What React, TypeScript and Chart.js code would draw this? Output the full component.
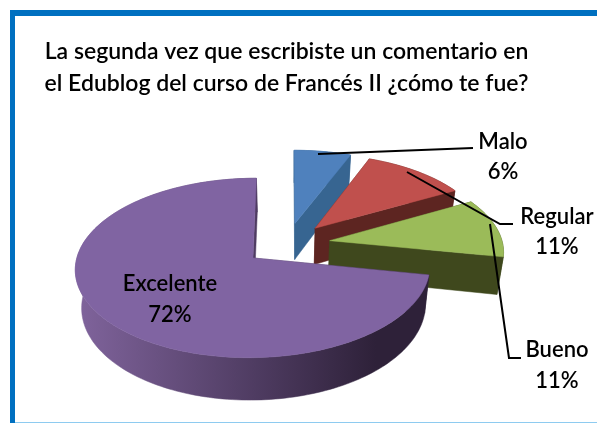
import React, { useEffect, useRef } from "react";
import { Chart, registerables } from "chart.js";

Chart.register(...registerables);

const titleLines = ["La segunda vez que escribiste un comentario en", "el Edublog del curso de Francés II ¿cómo te fue?"];
const categories = ["Malo", "Regular", "Bueno", "Excelente"];
const percentages = [6, 11, 11, 72];
const topColors = ["#4f81bd", "#c0504d", "#9bbb59", "#8064a2"];
const wallColors = ["#376591", "#5d2521", "#3f481d", "#3a2a4a"];

const FONT = "Lato, 'Open Sans', sans-serif";
const view = { cx: 287, cy: 244, rx: 173, ry: 85.5, persp: 0.11, depth: 37, narrow: 0.97 };
const labelPlaces = [
  { x: 503, y: 142, gap: 30 },
  { x: 557, y: 217, gap: 30 },
  { x: 557, y: 350, gap: 31 },
  { x: 170, y: 284, gap: 31 },
];
const leaders = [
  [[318, 154], [473, 148]],
  [[407, 172], [500, 224], [513, 224]],
  [[490, 224], [509, 358], [521, 358]],
];

const project = (X: number, Y: number) => {
  const s = 1 / (1 - view.persp * Y);
  return { x: view.cx + view.rx * X * s, y: view.cy + view.ry * Y * s, s };
};
const drop = (p: { x: number; y: number; s: number }) => ({
  x: view.cx + (p.x - view.cx) * view.narrow,
  y: p.y + view.depth * (1 + (p.s - 1) * 1.0),
  s: p.s,
});
const poly = (ctx: CanvasRenderingContext2D, pts: { x: number; y: number }[], fill: any) => {
  ctx.beginPath();
  pts.forEach((p, i) => (i ? ctx.lineTo(p.x, p.y) : ctx.moveTo(p.x, p.y)));
  ctx.closePath();
  ctx.fillStyle = fill;
  ctx.strokeStyle = fill;
  ctx.lineWidth = 0.5;
  ctx.fill();
  ctx.stroke();
};

const pie3d = {
  id: "pie3d",
  beforeDatasetsDraw(chart: any) {
    const ctx: CanvasRenderingContext2D = chart.ctx;
    const arcs = chart.getDatasetMeta(0).data;
    arcs.forEach((arc: any, i: number) => {
      const { startAngle, endAngle, outerRadius } = arc.getProps(["startAngle", "endAngle", "outerRadius"], true);
      const d = arc.options.offset / outerRadius;
      const mid = (startAngle + endAngle) / 2;
      const ox = Math.cos(mid) * d;
      const oy = Math.sin(mid) * d;
      const apex = project(ox, oy);
      const rim: any[] = [];
      const steps = Math.max(4, Math.round((endAngle - startAngle) * 40));
      for (let k = 0; k <= steps; k++) {
        const a = startAngle + ((endAngle - startAngle) * k) / steps;
        rim.push(project(ox + Math.cos(a), oy + Math.sin(a)));
      }
      let wall: any = wallColors[i];
      if (i === 3) {
        const g = ctx.createLinearGradient(80, 0, 428, 0);
        g.addColorStop(0, "#7f639b");
        g.addColorStop(0.5, "#4f3c62");
        g.addColorStop(0.85, "#2e2139");
        g.addColorStop(1, "#2e2139");
        wall = g;
      }
      const rimLow = rim.map(drop);
      const apexLow = drop(apex);
      poly(ctx, [...rim, ...rimLow.slice().reverse()], wall);
      poly(ctx, [apex, rim[0], rimLow[0], apexLow], wall);
      poly(ctx, [apex, rim[rim.length - 1], rimLow[rim.length - 1], apexLow], wall);
      poly(ctx, [apex, ...rim], topColors[i]);
    });

    ctx.save();
    ctx.strokeStyle = "#000";
    ctx.lineWidth = 2;
    leaders.forEach((pts) => {
      ctx.beginPath();
      pts.forEach(([x, y], i) => (i ? ctx.lineTo(x, y) : ctx.moveTo(x, y)));
      ctx.stroke();
    });
    ctx.fillStyle = "#000";
    ctx.textAlign = "center";
    ctx.textBaseline = "middle";
    ctx.font = `600 22px ${FONT}`;
    labelPlaces.forEach((p, i) => {
      ctx.fillText(categories[i], p.x, p.y);
      ctx.fillText(`${percentages[i]}%`, p.x, p.y + p.gap);
    });
    ctx.restore();
    return false;
  },
};

export default function App() {
  const ref = useRef<HTMLCanvasElement>(null);
  useEffect(() => {
    const chart = new Chart(ref.current!, {
      type: "pie",
      data: {
        labels: categories,
        datasets: [{ data: percentages, backgroundColor: topColors, offset: 35, borderWidth: 0 }],
      },
      options: {
        animation: false,
        responsive: false,
        events: [],
        layout: { padding: { right: 24 } },
        plugins: {
          legend: { display: false },
          tooltip: { enabled: false },
          title: {
            display: true,
            text: titleLines,
            color: "#000",
            font: { family: FONT, size: 23, weight: "600", lineHeight: 1.37 },
            padding: { top: 36, bottom: 10 },
          },
        },
      },
      plugins: [pie3d],
    } as any);
    return () => chart.destroy();
  }, []);
  return (
    <div style={{ position: "fixed", left: 0, top: 0, width: 597, height: 423, background: "#fff", overflow: "hidden" }}>
      <canvas ref={ref} width={597} height={423} style={{ position: "absolute", left: 0, top: 0, display: "block", filter: "blur(0.4px)" }} />
      <div style={{ position: "absolute", left: 10, top: 10, width: 587, height: 6, background: "#0070c0" }} />
      <div style={{ position: "absolute", left: 10, top: 10, width: 5, height: 413, background: "#0070c0" }} />
      <div style={{ position: "absolute", left: 15, top: 422, width: 582, height: 1, background: "#8ecbf0" }} />
    </div>
  );
}
